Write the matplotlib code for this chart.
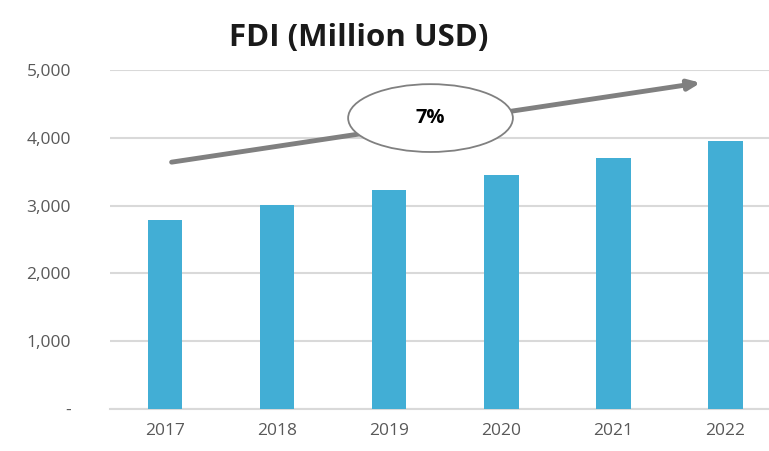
import matplotlib.pyplot as plt
from matplotlib.patches import Ellipse
from matplotlib.ticker import FuncFormatter

# data
years = ["2017", "2018", "2019", "2020", "2021", "2022"]
fdi = [2780, 3015, 3230, 3455, 3695, 3955]
growth_label = "7%"

plt.rcParams["font.family"] = ["Open Sans", "DejaVu Sans"]

fig = plt.figure(figsize=(7.69, 4.51), dpi=100)
ax = fig.add_axes([0.143, 0.093, 0.857, 0.752])

x = range(len(years))
ax.bar(x, fdi, width=0.31, color="#42AED5", zorder=3)

ax.set_xlim(-0.49, 5.39)
ax.set_ylim(0, 5000)
ax.set_yticks([0, 1000, 2000, 3000, 4000, 5000])
ax.yaxis.set_major_formatter(FuncFormatter(lambda v, p: "-" if v == 0 else f"{int(v):,}"))
ax.set_xticks(list(x))
ax.set_xticklabels(years)
ax.tick_params(length=0, labelsize=12.5, colors="#595959", pad=10)
ax.tick_params(axis="y", pad=28)

ax.grid(axis="y", color="#d9d9d9", linewidth=1.5, zorder=0)
for s in ["top", "right", "left"]:
    ax.spines[s].set_visible(False)
ax.spines["bottom"].set_color("#d9d9d9")
ax.spines["bottom"].set_linewidth(1.5)

# trend arrow + growth bubble
ax.annotate("", xy=(4.78, 4810), xytext=(0.06, 3640),
            arrowprops=dict(arrowstyle="-|>,head_length=0.7,head_width=0.3",
                            color="#808080", lw=3.5, shrinkA=0, shrinkB=0),
            zorder=4)
ax.add_patch(Ellipse((2.37, 4290), 1.47, 1000, facecolor="white",
                     edgecolor="#808080", lw=1.3, zorder=5))
ax.text(2.37, 4290, growth_label, ha="center", va="center", fontsize=14.5,
        fontweight="bold", color="black", zorder=6)

fig.text(0.466, 0.915, "FDI (Million USD)", ha="center", va="center",
         fontsize=22.5, fontweight="bold", color="#1a1a1a")

plt.savefig("out.png", dpi=100)
